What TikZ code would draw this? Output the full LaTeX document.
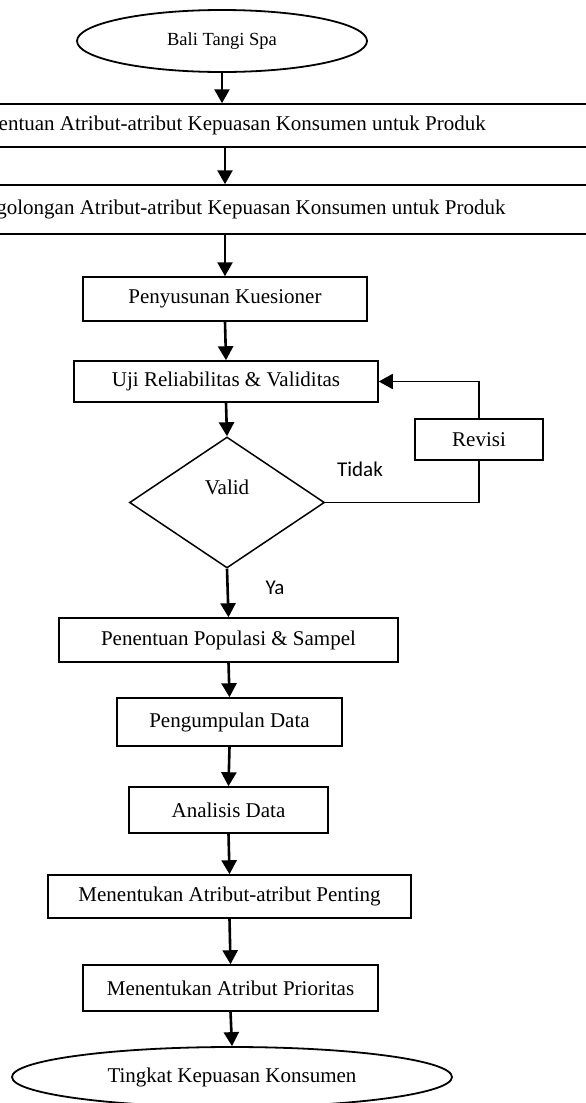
\documentclass[tikz,border=0pt]{standalone}
\usepackage{fontspec}
\setmainfont{Liberation Serif}
\newfontfamily\labelfont{Carlito}
\usetikzlibrary{shapes.geometric,arrows.meta}

\begin{document}
\begin{tikzpicture}[
	y=-1pt,
	x=1pt,
	box/.style={draw=black, line width=1.5pt, rectangle, inner sep=0pt,
		font=\fontsize{21}{25}\selectfont},
	term/.style={draw=black, line width=1.8pt, ellipse, inner sep=0pt,
		font=\fontsize{21}{25}\selectfont},
	decision/.style={draw=black, line width=1.5pt, diamond, inner sep=0pt,
		font=\fontsize{21}{25}\selectfont},
	lbl/.style={font=\labelfont\fontsize{21}{25}\selectfont},
	arr/.style={line width=2.6pt, -{Triangle[length=14pt,width=15pt]}},
	back/.style={line width=1.8pt}]

\useasboundingbox (0,0) rectangle (586,1103);

% start
\node[term, minimum width=290pt, minimum height=62pt,
	font=\fontsize{18.5}{22}\selectfont] (bali) at (222,41) {Bali Tangi Spa};

% the two wide boxes (cut by the page)
\node[box, minimum width=780pt, minimum height=43pt] (atribut) at (226.5,125.5)
	{Penentuan Atribut-atribut Kepuasan Konsumen untuk Produk};
\node[box, minimum width=780pt, minimum height=49pt] (golongan) at (230,209.5)
	{Penggolongan Atribut-atribut Kepuasan Konsumen untuk Produk};

% questionnaire and test
\node[box, minimum width=284pt, minimum height=44pt] (kuesioner) at (225,299)
	{Penyusunan Kuesioner};
\node[box, minimum width=304pt, minimum height=41pt] (uji) at (226,381.5)
	{Uji Reliabilitas \& Validitas};
\node[decision, minimum width=195pt, minimum height=131pt] (valid) at (227,502.5)
	{\raisebox{8pt}[0pt][0pt]{Valid}};
\node[box, minimum width=128pt, minimum height=41pt] (revisi) at (479,439.5)
	{Revisi};
\node[lbl] (tidak) at (360,469) {Tidak};
\node[lbl] (ya) at (275,588) {Ya};

% rest of the chain
\node[box, minimum width=339pt, minimum height=44pt] (populasi) at (228.5,640)
	{Penentuan Populasi \& Sampel};
\node[box, minimum width=225pt, minimum height=48pt] (kumpul) at (229.5,722)
	{Pengumpulan Data};
\node[box, minimum width=199pt, minimum height=46pt] (analisis) at (228.5,810)
	{Analisis Data};
\node[box, minimum width=363pt, minimum height=43pt] (penting) at (229.5,896.5)
	{Menentukan Atribut-atribut Penting};
\node[box, minimum width=295pt, minimum height=46pt] (prioritas) at (230.5,988)
	{Menentukan Atribut Prioritas};

% end
\node[term, minimum width=440pt, minimum height=60pt] (tingkat) at (232,1077)
	{Tingkat Kepuasan Konsumen};

% links
\draw[arr] (bali.south) -- (bali.south |- atribut.north);
\draw[arr] (atribut.south -| kuesioner) -- (golongan.north -| kuesioner);
\draw[arr] (golongan.south -| kuesioner) -- (kuesioner.north);
\draw[arr] (kuesioner.south) -- (uji.north);
\draw[arr] (uji.south) -- (valid.north);
\draw[arr] (valid.south) -- (populasi.north);
\draw[arr] (populasi.south) -- (kumpul.north);
\draw[arr] (kumpul.south) -- (analisis.north);
\draw[arr] (analisis.south) -- (penting.north);
\draw[arr] (penting.south) -- (prioritas.north);
\draw[arr] (prioritas.south) -- (tingkat.north);

% loop back
\draw[back] (valid.east) -| (revisi.south);
\draw[arr, line width=1.8pt] (revisi.north) |- (uji.east);
\end{tikzpicture}
\end{document}
